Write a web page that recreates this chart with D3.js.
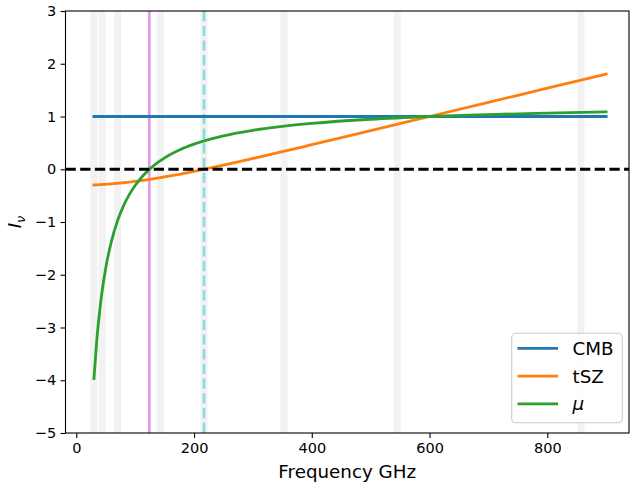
<!DOCTYPE html>
<html lang="en">
<head>
<meta charset="UTF-8">
<title>CMB / tSZ / mu spectra</title>
<script src="https://d3js.org/d3.v7.min.js"></script>
<style>
  body { margin: 0; background: #fff; }
  svg { display: block; font-family: "DejaVu Sans", sans-serif; }
</style>
</head>
<body>
<svg id="chart" width="630" height="485"></svg>
<script>
const freqs = [30, 35, 40, 45, 50, 60, 70, 80, 90, 100, 125, 150, 175, 200, 250, 300, 350, 400, 500, 600, 700, 800, 900];
const cmb  = freqs.map(() => 1);
const tsz  = [-0.298, -0.295, -0.292, -0.289, -0.285, -0.277, -0.267, -0.256, -0.243, -0.230, -0.190, -0.145, -0.095, -0.040, 0.078, 0.204, 0.333, 0.465, 0.732, 1.000, 1.268, 1.536, 1.804];
const mu   = [-3.967, -3.220, -2.660, -2.224, -1.876, -1.353, -0.979, -0.699, -0.481, -0.307, 0.007, 0.216, 0.365, 0.477, 0.634, 0.739, 0.813, 0.869, 0.948, 1.000, 1.037, 1.065, 1.087];

// instrument channels shown as grey bands
const bands = [30, 44, 70, 143, 217, 353, 545, 857];
const muNull = 124;   // pink line
const tszNull = 217;  // cyan dashed line

const xTicks = [0, 200, 400, 600, 800];
const yTicks = [-5, -4, -3, -2, -1, 0, 1, 2, 3];

const series = [
  { name: "CMB", values: cmb, color: "#1f77b4", italic: false },
  { name: "tSZ", values: tsz, color: "#ff7f0e", italic: false },
  { name: "\u03bc", values: mu,  color: "#2ca02c", italic: true }
];

const pLeft = 65.5, pRight = 629, pTop = 11, pBottom = 433;
const svg = d3.select("#chart");

const x = d3.scaleLinear().domain([-18.3, 938.8]).range([pLeft, pRight]);
const y = d3.scaleLinear().domain([-5, 3]).range([pBottom, pTop]);

const plot = svg.append("g");

// grey bands
plot.selectAll(".band")
  .data(bands)
  .enter().append("rect")
  .attr("x", d => x(d - 6))
  .attr("y", pTop)
  .attr("width", d => x(d + 6) - x(d - 6))
  .attr("height", pBottom - pTop)
  .attr("fill", "#808080")
  .attr("fill-opacity", 0.1);

// vertical markers
plot.append("line")
  .attr("x1", x(muNull)).attr("x2", x(muNull))
  .attr("y1", pTop).attr("y2", pBottom)
  .attr("stroke", "orchid").attr("stroke-opacity", 0.7)
  .attr("stroke-width", 2.8);

plot.append("line")
  .attr("x1", x(tszNull)).attr("x2", x(tszNull))
  .attr("y1", pTop).attr("y2", pBottom)
  .attr("stroke", "mediumturquoise").attr("stroke-opacity", 0.6)
  .attr("stroke-width", 2.8)
  .attr("stroke-dasharray", "10.3 4.4");

// curves
const line = d3.line()
  .x((d, i) => x(freqs[i]))
  .y(d => y(d))
  .curve(d3.curveMonotoneX);

series.forEach(s => {
  plot.append("path")
    .attr("d", line(s.values))
    .attr("fill", "none")
    .attr("stroke", s.color)
    .attr("stroke-width", 2.8)
    .attr("stroke-linecap", "square");
});

// zero line
plot.append("line")
  .attr("x1", pLeft).attr("x2", pRight)
  .attr("y1", y(0)).attr("y2", y(0))
  .attr("stroke", "black")
  .attr("stroke-width", 2.8)
  .attr("stroke-dasharray", "10.3 4.4");

// axes
const xAxis = d3.axisBottom(x).tickValues(xTicks).tickSize(4.9).tickPadding(4.5)
  .tickFormat(d3.format("d"));
const yAxis = d3.axisLeft(y).tickValues(yTicks).tickSize(4.9).tickPadding(4.5)
  .tickFormat(d => d < 0 ? "\u2212" + Math.abs(d) : d);

const gx = svg.append("g").attr("transform", `translate(0,${pBottom})`).call(xAxis);
const gy = svg.append("g").attr("transform", `translate(${pLeft},0)`).call(yAxis);
[gx, gy].forEach(g => {
  g.select(".domain").remove();
  g.selectAll(".tick line").attr("stroke", "#000").attr("stroke-width", 1.1);
  g.selectAll(".tick text").attr("font-size", 14.5).attr("fill", "#000")
    .attr("font-family", "DejaVu Sans");
});

// frame
svg.append("rect")
  .attr("x", pLeft).attr("y", pTop)
  .attr("width", pRight - pLeft).attr("height", pBottom - pTop)
  .attr("fill", "none").attr("stroke", "#000").attr("stroke-width", 1.1);

// axis labels
svg.append("text")
  .attr("x", (pLeft + pRight) / 2).attr("y", 478)
  .attr("text-anchor", "middle")
  .attr("font-size", 18.3)
  .text("Frequency GHz");

const ylab = svg.append("text")
  .attr("transform", `translate(21,${(pTop + pBottom) / 2}) rotate(-90)`)
  .attr("text-anchor", "middle")
  .attr("font-size", 18.3)
  .attr("font-style", "italic");
ylab.append("tspan").text("I");
ylab.append("tspan").attr("font-size", 13).attr("dy", 4).text("\u03bd");

// legend
const leg = svg.append("g");
leg.append("rect")
  .attr("x", 511.7).attr("y", 333.3)
  .attr("width", 110.6).attr("height", 89.4)
  .attr("rx", 4)
  .attr("fill", "#fff").attr("fill-opacity", 0.8)
  .attr("stroke", "#cccccc").attr("stroke-width", 1.1);

series.forEach((s, i) => {
  const ly = 348.3 + i * 27.8;
  leg.append("line")
    .attr("x1", 517.5).attr("x2", 558)
    .attr("y1", ly).attr("y2", ly)
    .attr("stroke", s.color).attr("stroke-width", 2.8);
  leg.append("text")
    .attr("x", 572.5).attr("y", ly)
    .attr("dy", "0.36em")
    .attr("font-size", 18.3)
    .attr("font-style", s.italic ? "italic" : "normal")
    .text(s.name);
});
</script>
</body>
</html>
